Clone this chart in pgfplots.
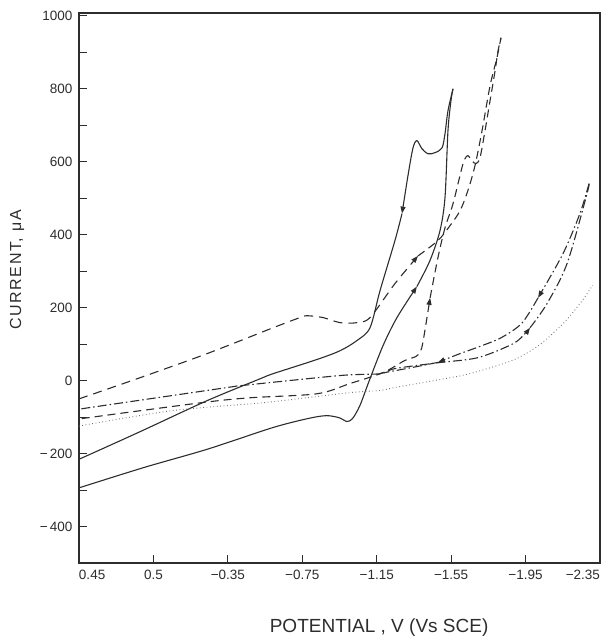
\documentclass[border=0pt]{standalone}
\usepackage{fontspec}
\setmainfont{Liberation Sans}
\usepackage{pgfplots}
\pgfplotsset{compat=1.18}
\usetikzlibrary{arrows.meta}

\definecolor{ink}{RGB}{45,45,45}

\tikzset{
  arr/.style={-{Triangle[length=7pt,width=5pt]}},
}

\begin{document}
\begin{tikzpicture}
\useasboundingbox (-79pt,-77pt) rectangle (524pt,563pt);
\begin{axis}[
    at={(0pt,0pt)}, anchor=south west,
    scale only axis, width=521pt, height=550pt,
    x dir=reverse,
    xmin=-2.35, xmax=0.45,
    ymin=-500, ymax=1008,
    axis line style={ink, line width=1.2pt},
    tick style={ink, line width=1pt},
    tick align=inside,
    tick pos=left,
    major tick length=8pt, minor tick length=8pt,
    xtick={-2.35,-1.95,-1.55,-1.15,-0.75,-0.35,0.05,0.45},
    xticklabels={\llap{−2.35}, −1.95, −1.55, −1.15, −0.75, −0.35, 0.5, \rlap{0.45}},
    ytick={-400,-200,0,200,400,600,800,1000},
    yticklabels={−\,400, −\,200, 0, 200, 400, 600, 800, 1000},
    minor y tick num=1,
    ticklabel style={font=\fontsize{13.5}{13.5}\selectfont, text=ink},
    xticklabel style={yshift=-4pt},
    yticklabel style={xshift=-3pt},
    xlabel={POTENTIAL , V (Vs SCE)},
    ylabel={CURRENT, μA},
    xlabel style={font=\fontsize{19}{19}\selectfont, text=ink,
      at={(axis description cs:0.576,-0.118)}, anchor=center},
    ylabel style={font=\fontsize{16}{16}\selectfont\addfontfeature{LetterSpace=10}, text=ink,
      at={(axis description cs:-0.119,0.533)}, anchor=center},
    every axis plot/.append style={no markers, smooth, line width=1.1pt},
  ]

  % solid: forward sweep
  \addplot[ink, arr] coordinates {
    (0.45,-294) (0.1,-238) (-0.24,-188) (-0.59,-129) (-0.78,-104)
    (-0.88,-96) (-0.95,-102) (-0.99,-112) (-1.02,-104) (-1.06,-68) (-1.11,0)
    (-1.184,96) (-1.259,173) (-1.366,258)
  };
  \addplot[ink] coordinates {
    (-1.366,258) (-1.436,329) (-1.490,411) (-1.517,502) (-1.533,685) (-1.549,767) (-1.560,800)
  };
  % solid: return sweep
  \addplot[ink, arr] coordinates {
    (-1.560,800) (-1.533,740) (-1.517,677) (-1.501,638) (-1.463,625) (-1.426,622)
    (-1.393,636) (-1.366,658) (-1.345,638) (-1.318,562) (-1.286,458)
  };
  \addplot[ink] coordinates {
    (-1.286,458) (-1.248,384) (-1.168,247) (-1.114,145) (-1.044,110) (-0.953,82)
    (-0.829,58) (-0.593,19) (-0.523,5) (-0.238,-55) (0.122,-140) (0.43,-211) (0.45,-214)
  };

  % dashed loop
  \addplot[ink, dash pattern=on 8pt off 5pt, arr] coordinates {
    (0.45,-108) (0.434,-104) (-0.216,-60) (-0.469,-47) (-0.829,-36) (-1.006,-8)
    (-1.184,22) (-1.30,55) (-1.36,66) (-1.385,80) (-1.40,110) (-1.437,227)
  };
  \addplot[ink, dash pattern=on 8pt off 5pt] coordinates {
    (-1.437,227) (-1.479,337) (-1.517,419) (-1.560,485) (-1.608,584) (-1.624,608)
    (-1.640,617) (-1.662,603) (-1.683,595) (-1.705,611) (-1.732,685) (-1.759,767)
    (-1.786,849) (-1.802,904) (-1.818,940)
  };
  \addplot[ink, dash pattern=on 9pt off 6pt, arr] coordinates {
    (0.45,-50) (0.122,8) (-0.238,74) (-0.593,145) (-0.738,173) (-0.775,178)
    (-0.861,173) (-0.953,159) (-1.044,159) (-1.114,173) (-1.248,266) (-1.372,342)
  };
  \addplot[ink, dash pattern=on 8pt off 5pt] coordinates {
    (-1.372,342) (-1.479,384) (-1.544,425) (-1.598,466) (-1.640,521) (-1.678,589)
    (-1.716,685) (-1.759,808) (-1.796,885) (-1.818,940)
  };

  % dash-dot loop
  \addplot[ink, dash pattern=on 9pt off 3pt on 1.5pt off 3pt, arr] coordinates {
    (0.45,-80) (0.434,-77) (-0.345,-19) (-0.415,-14) (-0.953,14) (-1.168,19)
    (-1.248,33) (-1.479,49) (-1.694,63) (-1.882,101) (-1.947,129) (-1.974,145)
  };
  \addplot[ink, dash pattern=on 9pt off 3pt on 1.5pt off 3pt] coordinates {
    (-1.974,145) (-2.065,211) (-2.173,321) (-2.280,512) (-2.291,540)
  };
  \addplot[ink, dash pattern=on 9pt off 3pt on 1.5pt off 3pt, arr] coordinates {
    (-2.291,540) (-2.242,458) (-2.151,348) (-2.017,227)
  };
  \addplot[ink, dash pattern=on 9pt off 3pt on 1.5pt off 3pt, arr] coordinates {
    (-2.017,227) (-1.931,158) (-1.82,118) (-1.705,94) (-1.587,72) (-1.479,50)
  };
  \addplot[ink, dash pattern=on 9pt off 3pt on 1.5pt off 3pt] coordinates {
    (-1.479,50) (-1.33,35) (-1.17,20)
  };

  % dotted
  \addplot[black!55, line width=0.9pt, dash pattern=on 0.8pt off 2.6pt] coordinates {
    (0.45,-126) (0.434,-123) (-0.055,-82) (-0.55,-60) (-1.006,-33) (-1.168,-27)
    (-1.248,-19) (-1.544,8) (-1.608,14) (-1.705,27) (-1.85,50) (-1.931,68)
    (-2.03,100) (-2.151,156) (-2.242,211) (-2.296,250) (-2.31,262)
  };
\end{axis}
\end{tikzpicture}
\end{document}
